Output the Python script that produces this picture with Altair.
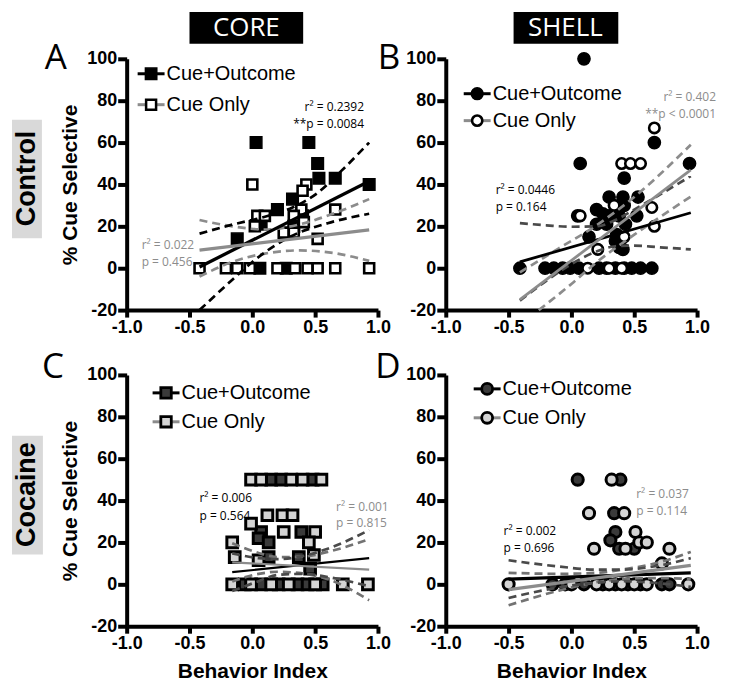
import altair as alt
import pandas as pd

FONT = "Liberation Sans"
SOFT = "Open Sans"
GRAY = "#8c8c8c"
DARK = "#4a4a4a"
W, H = 252, 252

# ---------------- Panel A (CORE, Control) ----------------
A_co_x = [0.03, 0.45, 0.52, 0.53, 0.66, 0.93, 0.32, 0.20, 0.40, 0.07, -0.12, 0.33, 0.06, 0.27]
A_co_y = [60, 60, 50, 43, 43, 40, 33, 28, 25, 21, 14, 20, 0, 0]
A_cu_x = [0.0, 0.43, 0.40, 0.66, 0.39, 0.04, 0.10, 0.33, 0.02, 0.25, 0.33, 0.41, 0.52,
          -0.42, -0.21, -0.12, -0.02, 0.20, 0.34, 0.44, 0.52, 0.66, 0.93]
A_cu_y = [40, 40, 37, 28, 28, 25, 25, 25, 20, 17, 17, 22, 14,
          0, 0, 0, 0, 0, 0, 0, 0, 0, 0]
A_fit_co_x = [-0.42, 0.93]
A_fit_co_y = [0.6, 41.5]
A_fit_cu_x = [-0.42, 0.93]
A_fit_cu_y = [8.6, 18.3]
A_ci_co_up_x = [-0.42, -0.16, 0.1, 0.32, 0.52, 0.7, 0.93]
A_ci_co_up_y = [16.5, 20.8, 24.6, 29, 36, 46, 60]
A_ci_co_lo_x = [-0.42, -0.15, 0.0, 0.3, 0.6, 0.93]
A_ci_co_lo_y = [-20, -5, 3, 15, 21.5, 26]
A_ci_cu_up_x = [-0.42, -0.16, 0.1, 0.38, 0.64, 0.93]
A_ci_cu_up_y = [23, 20, 18.5, 21, 26, 33]
A_ci_cu_lo_x = [-0.42, -0.16, 0.1, 0.38, 0.64, 0.93]
A_ci_cu_lo_y = [-4, 3, 7, 8.5, 7.3, 3.5]

# ---------------- Panel B (SHELL, Control) ----------------
B_co_x = [0.10, 0.07, 0.94, 0.66, 0.42, 0.30, 0.41, 0.53, 0.05, 0.20, 0.25, 0.30, 0.38, 0.52,
          0.20, 0.28, 0.43, 0.14, 0.36, 0.35, 0.41, 0.38, 0.42,
          -0.41, -0.21, -0.14, -0.07, -0.01, 0.06, 0.22, 0.28, 0.35, 0.42, 0.48, 0.55, 0.64]
B_co_y = [100, 50, 50, 60, 43, 34, 34, 34, 25, 28, 26, 25, 25, 25,
          21, 21, 21, 15, 16, 13, 9, 10, 30,
          0, 0, 0, 0, 0, 0, 0, 0, 0, 0, 0, 0, 0]
B_cu_x = [0.66, 0.40, 0.47, 0.55, 0.34, 0.64, 0.07, 0.66, 0.42, 0.21, 0.13, 0.30, 0.40]
B_cu_y = [67, 50, 50, 50, 30, 29, 25, 20, 15, 9, 0, 0, 0]
B_fit_co_x = [-0.41, 0.95]
B_fit_co_y = [3, 26.5]
B_fit_cu_x = [-0.41, 0.95]
B_fit_cu_y = [-15, 47]
B_ci_co_up_x = [-0.41, -0.2, 0.0, 0.2, 0.35, 0.5, 0.7, 0.95]
B_ci_co_up_y = [21.5, 20.5, 19.8, 20, 23, 28, 35, 44]
B_ci_co_lo_x = [-0.41, -0.2, 0.0, 0.2, 0.35, 0.5, 0.7, 0.95]
B_ci_co_lo_y = [-15.5, -6, 2, 8, 10.5, 10.8, 10, 9]
B_ci_cu_up_x = [-0.41, -0.1, 0.2, 0.5, 0.95]
B_ci_cu_up_y = [-2, 9.5, 20.5, 34, 59]
B_ci_cu_lo_x = [-0.26, 0.0, 0.2, 0.5, 0.95]
B_ci_cu_lo_y = [-20, -7.5, 2.8, 16, 34.2]

# ---------------- Panel C (CORE, Cocaine) ----------------
C_co_x = [0.15, 0.23, 0.48, 0.07, 0.39, 0.05, 0.13, 0.13, 0.37, 0.46,
          -0.06, 0.07, 0.21, 0.36, 0.44, 0.56]
C_co_y = [50, 50, 50, 25, 25, 22, 20, 13, 13, 7.5,
          0, 0, 0, 0, 0, 0]
C_cu_x = [-0.01, 0.07, 0.31, 0.40, 0.55, 0.12, 0.24, 0.32, -0.01, 0.25, 0.50, -0.16, 0.45,
          0.49, -0.14, 0.05, -0.16, -0.01, 0.15, 0.29, 0.50, 0.72, 0.92]
C_cu_y = [50, 50, 50, 50, 50, 33, 33, 33, 29, 25, 25, 20, 20,
          14, 13, 11.5, 0, 0, 0, 0, 0, 0, 0]
C_fit_co_x = [-0.16, 0.93]
C_fit_co_y = [5.8, 12.5]
C_fit_cu_x = [-0.16, 0.93]
C_fit_cu_y = [10.5, 7.0]
C_ci_x = [-0.16, 0.05, 0.2, 0.4, 0.6, 0.93]
C_ci_co_up_y = [14.8, 12.5, 12, 13.5, 17, 25.9]
C_ci_co_lo_y = [-3.2, 1.5, 4.5, 5, 3.5, -0.9]
C_ci_cu_up_y = [19.6, 15, 13, 13.2, 15.5, 21.6]
C_ci_cu_lo_y = [1.4, 5, 6, 5.2, 2.5, -7.6]

# ---------------- Panel D (SHELL, Cocaine) ----------------
D_co_x = [0.05, 0.39, 0.34, 0.35, 0.31, 0.38, 0.50,
          -0.15, -0.05, 0.1, 0.25, 0.35, 0.45, 0.55, 0.72, 0.78]
D_co_y = [50, 50, 34, 25, 21, 17, 17,
          0, 0, 0, 0, 0, 0, 0, 0, 0]
D_cu_x = [0.32, 0.14, 0.42, 0.51, 0.54, 0.60, 0.18, 0.43, 0.78, 0.72,
          -0.5, 0.0, 0.2, 0.3, 0.4, 0.5, 0.6, 0.93]
D_cu_y = [50, 34, 34, 25, 20, 20, 17, 17, 17, 10,
          0, 0, 0, 0, 0, 0, 0, 0]
D_fit_co_x = [-0.5, 0.95]
D_fit_co_y = [2.5, 5.5]
D_fit_cu_x = [-0.5, 0.95]
D_fit_cu_y = [-2.5, 9]
D_ci_x = [-0.5, -0.1, 0.2, 0.4, 0.7, 0.95]
D_ci_co_up_y = [11.5, 8.5, 7, 7, 9, 12.5]
D_ci_co_lo_y = [-6.5, -1.5, 0.8, 1.5, 0.5, -1.2]
D_ci_cu_up_y = [5.5, 5, 5.5, 7, 10.5, 15.5]
D_ci_cu_lo_y = [-10, -3, 1, 2.5, 3, 2.5]

XTICKS = [-1, -0.5, 0, 0.5, 1]
YTICKS = [-20, 0, 20, 40, 60, 80, 100]

XS = alt.Scale(domain=[-1, 1], nice=False, zero=False)
YS = alt.Scale(domain=[-20, 100], nice=False, zero=False)

AX_COMMON = dict(domainColor="black", domainWidth=4, tickColor="black", tickWidth=4,
                 labelFont=FONT, labelFontSize=18, labelFontWeight="bold", labelColor="black",
                 grid=False, titleFont=FONT, titleFontSize=21, titleFontWeight="bold",
                 titleColor="black", labelFlush=False, labelOverlap=False)


def xaxis(title):
    kw = dict(AX_COMMON)
    kw.update(values=XTICKS, tickSize=7, labelPadding=1,
              labelExpr="replace(format(datum.value, '.1f'), '\u2212', '-')")
    if title:
        kw.update(title=title, titlePadding=8)
    else:
        kw.update(title=None)
    return alt.Axis(**kw)


def yaxis(title):
    kw = dict(AX_COMMON)
    kw.update(values=YTICKS, tickSize=9, labelPadding=1,
              labelExpr="replace(format(datum.value, 'd'), '\u2212', '-')")
    if title:
        kw.update(title=title, titleX=-56, titleY=H / 2, titleAngle=270,
                  titleBaseline="middle", titleAlign="center")
    else:
        kw.update(title=None)
    return alt.Axis(**kw)


def pts(xs, ys, shape, size, fill, sw, ax):
    df = pd.DataFrame({"x": xs, "y": ys})
    return alt.Chart(df).mark_point(shape=shape, size=size, filled=True, fill=fill,
                                    stroke="black", strokeWidth=sw, opacity=1).encode(
        x=alt.X("x:Q", scale=XS, axis=ax[0]), y=alt.Y("y:Q", scale=YS, axis=ax[1]))


def line(xs, ys, color, width, ax, dash=None):
    df = pd.DataFrame({"x": xs, "y": ys})
    kw = dict(color=color, strokeWidth=width)
    if dash:
        kw.update(strokeDash=dash, interpolate="monotone")
    return alt.Chart(df).mark_line(**kw).encode(
        x=alt.X("x:Q", scale=XS, axis=ax[0]), y=alt.Y("y:Q", scale=YS, axis=ax[1]))


ONE = alt.Data(values=[{}])


def txt(s, x, y, size=12, color="black", align="left", weight="normal", font=SOFT, angle=0,
        baseline="middle"):
    kw = dict(align=align, baseline=baseline, fontSize=size, color=color, font=font,
              fontWeight=weight)
    if angle:
        kw["angle"] = angle
    return alt.Chart(ONE).mark_text(**kw).encode(x=alt.value(x), y=alt.value(y),
                                                 text=alt.value(s))


def box(x1, x2, y1, y2, color):
    return alt.Chart(ONE).mark_rect(color=color).encode(
        x=alt.value(x1), x2=alt.value(x2), y=alt.value(y1), y2=alt.value(y2))


def leg_item(x1, x2, y, lcolor, shape, size, fill, sw, label):
    r = alt.Chart(ONE).mark_rule(color=lcolor, strokeWidth=3).encode(
        x=alt.value(x1), x2=alt.value(x2), y=alt.value(y))
    p = alt.Chart(ONE).mark_point(shape=shape, size=size, filled=True, fill=fill,
                                  stroke="black", strokeWidth=sw, opacity=1).encode(
        x=alt.value((x1 + x2) / 2), y=alt.value(y))
    t = txt(label, x2 + 2, y, size=20, font=FONT)
    return [r, p, t]


def panel(co_x, co_y, cu_x, cu_y, fits, cis, co_style, cu_style, shape, xtitle, ytitle,
          legend, annots, letter, extras, ci_colors, fit_w=2.8):
    ax = (xaxis(xtitle), yaxis(ytitle))
    layers = []
    layers.append(pts(co_x, co_y, shape, co_style[0], co_style[1], co_style[2], ax))
    layers.append(pts(cu_x, cu_y, shape, cu_style[0], cu_style[1], cu_style[2], ax))
    (uxa, uya), (uxb, uyb), (lxa, lya), (lxb, lyb) = cis
    layers.append(line(uxb, uyb, ci_colors[1], 2.7, ax, [8, 5]))
    layers.append(line(lxb, lyb, ci_colors[1], 2.7, ax, [8, 5]))
    layers.append(line(uxa, uya, ci_colors[0], 2.7, ax, [8, 5]))
    layers.append(line(lxa, lya, ci_colors[0], 2.7, ax, [8, 5]))
    (fxa, fya), (fxb, fyb) = fits
    layers.append(line(fxa, fya, "black", fit_w, ax))
    layers.append(line(fxb, fyb, GRAY, fit_w, ax))
    layers += legend
    layers += annots
    layers.append(txt(letter[0], letter[1], letter[2], size=35, font=SOFT, align="center",
                      baseline="alphabetic"))
    layers += extras
    return alt.layer(*layers).properties(width=W, height=H)


# ---- Panel A ----
legA = (leg_item(11, 38, 15, "black", "square", 130, "black", 1.5, "Cue+Outcome") +
        leg_item(11, 38, 46, GRAY, "square", 100, "white", 2.5, "Cue Only"))
annA = [txt("r\u00b2 = 0.2392", 238, 48, align="right"),
        txt("**p = 0.0084", 238, 65, align="right"),
        txt("r\u00b2 = 0.022", 15, 187, color=GRAY),
        txt("p = 0.456", 15, 204, color=GRAY)]
extA = [box(63, 177, -47, -15, "black"),
        txt("CORE", 120, -31, size=26, color="white", align="center", font=SOFT),
        box(-115, -85, 61, 180, "#d9d9d9"),
        txt("Control", -100, 120, size=27, weight="bold", font=FONT, align="center", angle=270)]
panelA = panel(A_co_x, A_co_y, A_cu_x, A_cu_y,
               [(A_fit_co_x, A_fit_co_y), (A_fit_cu_x, A_fit_cu_y)],
               [(A_ci_co_up_x, A_ci_co_up_y), (A_ci_cu_up_x, A_ci_cu_up_y),
                (A_ci_co_lo_x, A_ci_co_lo_y), (A_ci_cu_lo_x, A_ci_cu_lo_y)],
               (135, "black", 1.5), (100, "white", 2.6), "square", None, "% Cue Selective",
               legA, annA, ("A", -71, 10), extA, ("black", GRAY), fit_w=3.3)

# ---- Panel B ----
legB = (leg_item(18, 45, 35, "black", "circle", 140, "black", 1.5, "Cue+Outcome") +
        leg_item(18, 45, 62, GRAY, "circle", 105, "white", 2.6, "Cue Only"))
annB = [txt("r\u00b2 = 0.402", 271, 38, align="right", color=GRAY),
        txt("**p < 0.0001", 271, 55, align="right", color=GRAY),
        txt("r\u00b2 = 0.0446", 50, 132),
        txt("p = 0.164", 50, 149)]
extB = [box(68, 173, -47, -15, "black"),
        txt("SHELL", 120, -31, size=26, color="white", align="center", font=SOFT)]
panelB = panel(B_co_x, B_co_y, B_cu_x, B_cu_y,
               [(B_fit_co_x, B_fit_co_y), (B_fit_cu_x, B_fit_cu_y)],
               [(B_ci_co_up_x, B_ci_co_up_y), (B_ci_cu_up_x, B_ci_cu_up_y),
                (B_ci_co_lo_x, B_ci_co_lo_y), (B_ci_cu_lo_x, B_ci_cu_lo_y)],
               (150, "black", 1.5), (110, "white", 2.6), "circle", None, None,
               legB, annB, ("B", -57, 10), extB, (DARK, GRAY))

# ---- Panel C ----
legC = (leg_item(26, 53, 18, "black", "square", 110, "#3a3a3a", 2.8, "Cue+Outcome") +
        leg_item(26, 53, 47, GRAY, "square", 110, "#d4d4d4", 2.8, "Cue Only"))
annC = [txt("r\u00b2 = 0.006", 73, 123),
        txt("p = 0.564", 73, 141),
        txt("r\u00b2 = 0.001", 210, 132, color=GRAY),
        txt("p = 0.815", 210, 149, color=GRAY)]
extC = [box(-115, -84, 61, 180, "#d9d9d9"),
        txt("Cocaine", -100, 120, size=27, weight="bold", font=FONT, align="center", angle=270)]
panelC = panel(C_co_x, C_co_y, C_cu_x, C_cu_y,
               [(C_fit_co_x, C_fit_co_y), (C_fit_cu_x, C_fit_cu_y)],
               [(C_ci_x, C_ci_co_up_y), (C_ci_x, C_ci_cu_up_y),
                (C_ci_x, C_ci_co_lo_y), (C_ci_x, C_ci_cu_lo_y)],
               (115, "#3a3a3a", 3), (115, "#d4d4d4", 3), "square", "Behavior Index",
               "% Cue Selective", legC, annC, ("C", -74, 3), extC, (DARK, "#737373"), fit_w=2.2)

# ---- Panel D ----
legD = (leg_item(28, 55, 14, "black", "circle", 120, "#3a3a3a", 2.8, "Cue+Outcome") +
        leg_item(28, 55, 43, GRAY, "circle", 120, "#d4d4d4", 2.8, "Cue Only"))
annD = [txt("r\u00b2 = 0.002", 58, 157),
        txt("p = 0.696", 58, 174),
        txt("r\u00b2 = 0.037", 191, 119, color=GRAY),
        txt("p = 0.114", 191, 136, color=GRAY)]
panelD = panel(D_co_x, D_co_y, D_cu_x, D_cu_y,
               [(D_fit_co_x, D_fit_co_y), (D_fit_cu_x, D_fit_cu_y)],
               [(D_ci_x, D_ci_co_up_y), (D_ci_x, D_ci_cu_up_y),
                (D_ci_x, D_ci_co_lo_y), (D_ci_x, D_ci_cu_lo_y)],
               (125, "#3a3a3a", 3), (125, "#d4d4d4", 3), "circle", "Behavior Index", None,
               legD, annD, ("D", -58, 3), [], (DARK, "#737373"), fit_w=3.3)

chart = alt.concat(panelA, panelB, panelC, panelD, columns=2,
                   spacing={"row": 65, "column": 68}, bounds="flush").properties(
    padding={"left": 4, "top": 3, "right": 5, "bottom": 5}
).configure_view(stroke=None)

chart.save("out.html", embed_options={"renderer": "svg", "actions": False})
